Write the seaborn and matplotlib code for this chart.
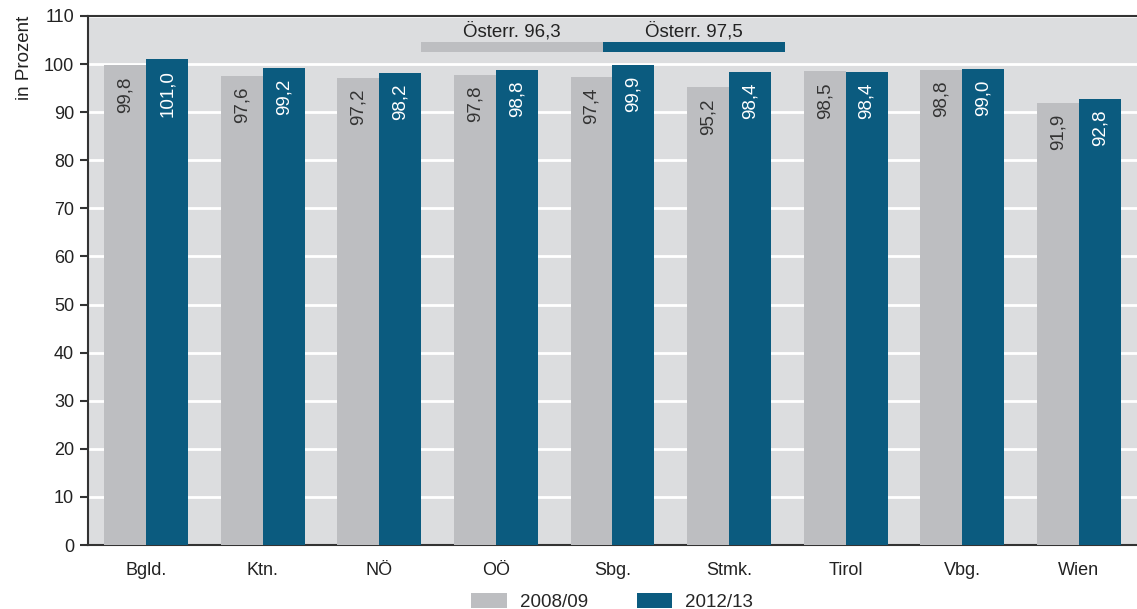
import matplotlib
matplotlib.use("Agg")
import matplotlib.pyplot as plt
from matplotlib.patches import Rectangle, Patch
import seaborn as sns
import pandas as pd

regions = ["Bgld.", "Ktn.", "NÖ", "OÖ", "Sbg.", "Stmk.", "Tirol", "Vbg.", "Wien"]
years = ["2008/09", "2012/13"]
values_2008 = [99.8, 97.6, 97.2, 97.8, 97.4, 95.2, 98.5, 98.8, 91.9]
values_2012 = [101.0, 99.2, 98.2, 98.8, 99.9, 98.4, 98.4, 99.0, 92.8]
austria_avg = [96.3, 97.5]
yticks = list(range(0, 111, 10))

gray = "#bdbec1"
blue = "#0b5b7f"
bg = "#dcdddf"
dark = "#333333"

df = pd.DataFrame({
    "region": regions * 2,
    "year": [years[0]] * len(regions) + [years[1]] * len(regions),
    "value": values_2008 + values_2012,
})

sns.set_theme(style="white")
plt.rcParams["font.family"] = ["Liberation Sans", "DejaVu Sans"]

fig = plt.figure(figsize=(11.37, 6.09), dpi=100)
ax = fig.add_axes([88 / 1137, 64 / 609, 1 - 88 / 1137, (545 - 16) / 609])
ax.set_facecolor(bg)

sns.barplot(data=df, x="region", y="value", hue="year", palette=[gray, blue],
            width=0.72, saturation=1, ax=ax, legend=False, zorder=3,
            linewidth=0, edgecolor="none")

ax.set_ylim(0, 110)
ax.set_yticks(yticks)
ax.yaxis.grid(True, color="white", linewidth=2, zorder=1)
ax.set_axisbelow(True)
ax.set_xlim(-0.5, len(regions) - 0.5)

for s in ["left", "top", "bottom"]:
    ax.spines[s].set_color(dark)
    ax.spines[s].set_linewidth(1.5)
ax.spines["right"].set_visible(False)
ax.tick_params(axis="y", length=6, width=1.5, color=dark, labelsize=13, labelcolor="#222222", pad=4, left=True)
ax.tick_params(axis="x", length=0, labelsize=13, labelcolor="#222222", pad=12)
ax.set_xlabel("")
ax.set_ylabel("in Prozent", fontsize=13.5, color="#222222", loc="top", labelpad=8)


def fmt(v):
    return f"{v:.1f}".replace(".", ",")


# value labels
for container, txtcolor in zip(ax.containers, [dark, "white"]):
    for bar in container:
        h = bar.get_height()
        ax.annotate(fmt(h),
                    xy=(bar.get_x() + bar.get_width() / 2, h),
                    xytext=(0, -8), textcoords="offset points",
                    rotation=90, ha="center", va="top",
                    fontsize=13.5, color=txtcolor, zorder=4)

# Austria average bands
band_x = [(421 - 88) / 1049, (603 - 88) / 1049, (785 - 88) / 1049]
for i, (avg, col) in enumerate(zip(austria_avg, [gray, blue])):
    x0, x1 = band_x[i], band_x[i + 1]
    ax.add_patch(Rectangle((x0, 0.932), x1 - x0, 0.019, transform=ax.transAxes,
                           facecolor=col, edgecolor="none", zorder=5, clip_on=False))
    ax.text((x0 + x1) / 2, 0.972, "Österr. " + fmt(avg),
            transform=ax.transAxes, ha="center", va="center",
            fontsize=13.5, color="#222222", zorder=5)

handles = [Patch(facecolor=gray, edgecolor="none"), Patch(facecolor=blue, edgecolor="none")]
fig.legend(handles, years, loc="center", bbox_to_anchor=(612 / 1137, 7 / 609),
           ncol=2, frameon=False, fontsize=13.5, handlelength=1.9, handleheight=0.9,
           handletextpad=0.7, columnspacing=2.6, borderaxespad=0, borderpad=0)

fig.savefig("out.png", dpi=100, facecolor="white")
